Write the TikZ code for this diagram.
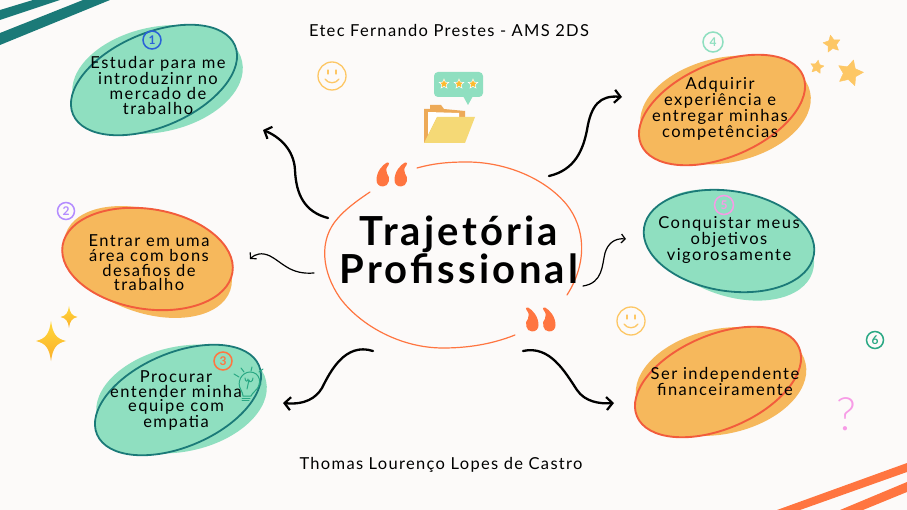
\documentclass[tikz,border=0pt]{standalone}
\usepackage{fontspec}
\setmainfont{Lato}
\newfontfamily\hand[LetterSpace=9]{Lato}
\newfontfamily\handh[LetterSpace=8]{Lato}
\newfontfamily\handb[LetterSpace=8]{Lato Bold}
\newfontfamily\lightf{Lato Light}
\usetikzlibrary{arrows.meta,shapes.geometric}
\definecolor{bgc}{HTML}{FCFAF9}
\definecolor{mint}{HTML}{8FDFC0}
\definecolor{teal}{HTML}{1B7A78}
\definecolor{amber}{HTML}{F6B85C}
\definecolor{redor}{HTML}{F25C3C}
\definecolor{coral}{HTML}{FF7540}
\definecolor{sun}{HTML}{FDC765}
\definecolor{gold}{HTML}{FDBB2E}
\definecolor{goldtop}{HTML}{FFD83A}
\definecolor{goldbot}{HTML}{FBAF2A}
\definecolor{leaf}{HTML}{2AA884}
\definecolor{folderb}{HTML}{EDAA58}
\definecolor{folderf}{HTML}{F5D976}
\definecolor{pinkq}{HTML}{F79BE6}
\definecolor{purpl}{HTML}{B48CFF}
\definecolor{blue1}{HTML}{2A62D8}
\tikzset{
  ringg/.style={draw=teal,fill=mint,line width=1.8pt,ellipse,inner sep=0pt},
  ringo/.style={draw=redor,fill=amber,line width=1.9pt,ellipse,inner sep=0pt},
  fillg/.style={fill=mint,ellipse,inner sep=0pt},
  fillo/.style={fill=amber,ellipse,inner sep=0pt},
  blobtxt/.style={align=center,text=black,inner sep=0pt,font=\hand\fontsize{16.5}{14.6}\selectfont},
  headtxt/.style={text=black,inner sep=0pt,font=\handh\fontsize{16.5}{18}\selectfont},
  numc/.style={circle,draw,line width=1.5pt,inner sep=0pt,minimum size=17pt,font=\handb\fontsize{12}{12}\selectfont},
  thick arrow/.style={draw=black,line width=2.3pt,line cap=round,-{Straight Barb[length=6pt,width=13pt,line width=2.2pt]}},
  thin arrow/.style={draw=black,line width=1.2pt,line cap=round,-{Straight Barb[length=4pt,width=9pt,line width=1.2pt]}},
  starry/.style={star,star points=5,star point ratio=2.0,fill=sun,draw=sun,line join=round,inner sep=0pt},
  smile/.style={draw=sun,line width=1.3pt,line cap=round},
}
\newcommand{\qdrop}[3]{\fill[coral,shift={(#1,#2)},xscale=#3] (-6.5,0) .. controls (-6.5,-8) and (-1,-15) .. (4,-17.5) .. controls (6,-18.2) and (7,-16.5) .. (5.5,-15) .. controls (3,-12) and (2.5,-9) .. (4,-6.5) .. controls (7.5,-3) and (6.5,6.5) .. (0,6.5) .. controls (-4,6.5) and (-6.5,4) .. (-6.5,0) -- cycle;}
\newcommand{\sparkle}[4]{\shade[top color=goldtop,bottom color=goldbot,shift={(#1,#2)},xscale=#3,yscale=#4] (0,-1) .. controls (.12,-.35) and (.35,-.12) .. (1,0) .. controls (.35,.12) and (.12,.35) .. (0,1) .. controls (-.12,.35) and (-.35,.12) .. (-1,0) .. controls (-.35,-.12) and (-.12,-.35) .. (0,-1) -- cycle;}
\newcommand{\smiley}[2]{\begin{scope}[shift={(#1,#2)}]\draw[smile] (0,0) circle[radius=14pt];\draw[smile] (-4,-6) -- (-4,-2) (4,-6) -- (4,-2);\draw[smile] (-7,3) .. controls (-4,8) and (4,8) .. (7,3);\end{scope}}
\begin{document}
\begin{tikzpicture}[x=1pt,y=-1pt]
\useasboundingbox (0,0) rectangle (907,510);
\fill[bgc] (0,0) rectangle (907,510);
% corner stripes
\fill[teal] (0,10) -- (33,0) -- (60,0) -- (0,20) -- cycle;
\fill[teal] (0,33) -- (83,0) -- (110,0) -- (0,45) -- cycle;
\fill[coral] (907,463) -- (777,510) -- (800,510) -- (907,472) -- cycle;
\fill[coral] (907,482) -- (840,510) -- (863,510) -- (907,492) -- cycle;
% backing blobs
\node[fillg,minimum width=173pt,minimum height=105pt,rotate=12] (f1) at (157.5,79.5) {};
\node[fillo,minimum width=174pt,minimum height=102pt,rotate=-19] (f2) at (148,262) {};
\node[fillg,minimum width=173pt,minimum height=105pt,rotate=12] (f3) at (181.5,399) {};
\node[fillo,minimum width=173pt,minimum height=105pt,rotate=12] (f4) at (725.5,110) {};
\node[fillg,minimum width=170pt,minimum height=102pt,rotate=-19] (f5) at (732,245) {};
\node[fillo,minimum width=173pt,minimum height=105pt,rotate=12] (f6) at (721,381.5) {};
% outlines
\node[ringg,minimum width=176pt,minimum height=94pt,rotate=23] (r1) at (154,80) {};
\node[ringo,minimum width=172pt,minimum height=100pt,rotate=-9] (r2) at (147.5,259) {};
\node[ringg,minimum width=176pt,minimum height=94pt,rotate=23] (r3) at (178,400) {};
\node[ringo,minimum width=176pt,minimum height=94pt,rotate=23] (r4) at (722,110) {};
\node[ringg,minimum width=172pt,minimum height=100pt,rotate=-9] (r5) at (729,241) {};
\node[ringo,minimum width=176pt,minimum height=94pt,rotate=23] (r6) at (718,382) {};
% texts
\node[blobtxt] (t1) at (158,85.5) {Estudar para me\\introduzinr no\\mercado de\\trabalho};
\node[blobtxt] (t2) at (149,263) {Entrar em uma\\área com bons\\desafios de\\trabalho};
\node[blobtxt] (t3) at (176,400.5) {Procurar\\entender minha\\equipe com\\empatia};
\node[blobtxt] (t4) at (720,108.5) {Adquirir\\experiência e\\entregar minhas\\competências};
\node[blobtxt] (t5) at (729,240) {Conquistar meus\\objetivos\\vigorosamente};
\node[blobtxt] (t6) at (725,381.5) {Ser independente\\financeiramente};
\node[headtxt] (top) at (449,30) {Etec Fernando Prestes - AMS 2DS};
\node[headtxt] (bot) at (441,465) {Thomas Lourenço Lopes de Castro};
% hub
\draw[coral,line width=1.2pt,line cap=round] (417,168) .. controls (435,163) and (450,162) .. (467,162) .. controls (505,162) and (545,178) .. (567,205) .. controls (585,228) and (588,262) .. (567,295);
\draw[coral,line width=1.2pt,line cap=round] (515,335) .. controls (490,345) and (465,348) .. (443,348) .. controls (400,348) and (360,325) .. (340,298) .. controls (322,272) and (318,240) .. (338,218) .. controls (345,210) and (355,202) .. (370,192);
\qdrop{383}{180}{1}\qdrop{401}{180}{1}
\qdrop{532}{325}{-1}\qdrop{549}{325}{-1}
\node[align=center,text=black,inner sep=0pt,font=\handb\fontsize{40}{34}\selectfont] (hub) at (459,250) {Trajetória\\Profissional};
% connectors
\coordinate (s1) at (328,218); \coordinate (e1) at (263,130);
\coordinate (s2) at (314,273); \coordinate (e2) at (250,259);
\coordinate (s3) at (373,351); \coordinate (e3) at (283,403);
\coordinate (s4) at (549,176); \coordinate (e4) at (622,97);
\coordinate (s5) at (583,286); \coordinate (e5) at (626,239);
\coordinate (s6) at (523,351); \coordinate (e6) at (614,403);
\draw[thick arrow] (s1) .. controls (305,212) and (296,195) .. (295,170) .. controls (294,150) and (280,137) .. (e1);
\draw[thin arrow] (s2) .. controls (290,275) and (282,262) .. (270,256) .. controls (262,252) and (255,254) .. (e2);
\draw[thick arrow] (s3) .. controls (345,342) and (330,372) .. (322,388) .. controls (316,398) and (305,405) .. (e3);
\draw[thick arrow] (s4) .. controls (575,170) and (583,150) .. (587,130) .. controls (591,105) and (600,95) .. (e4);
\draw[thin arrow] (s5) .. controls (603,283) and (602,265) .. (605,253) .. controls (608,243) and (615,238) .. (e5);
\draw[thick arrow] (s6) .. controls (550,345) and (565,372) .. (577,390) .. controls (585,402) and (600,404) .. (e6);
% number badges
\node[numc,draw=blue1,text=blue1,minimum size=18pt] (n1) at (152,40) {1};
\node[numc,draw=purpl,text=purpl] (n2) at (66,211) {2};
\node[numc,draw=coral,text=coral,minimum size=18pt] (n3) at (223,361) {3};
\node[numc,draw=mint,text=mint,minimum size=20pt] (n4) at (713,42) {4};
\node[numc,draw=pinkq,text=pinkq,minimum size=19pt] (n5) at (724,205) {5};
\node[numc,draw=leaf,text=leaf] (n6) at (875,340) {6};
% smileys
\smiley{332}{76}
\smiley{631}{321}
% stars
\node[starry,minimum size=18pt,rotate=10] (st1) at (832,44) {};
\node[starry,minimum size=14pt,rotate=-10] (st2) at (817,67) {};
\node[starry,minimum size=27pt,rotate=-15] (st3) at (850,73) {};
% sparkles
\sparkle{69}{317}{8.5}{11}
\sparkle{51}{341}{15}{20}
% question mark
\node[text=pinkq,inner sep=0pt,font=\lightf\fontsize{46}{46}\selectfont] (qm) at (846,414) {?};
% speech bubble and folder
\fill[mint,rounded corners=4pt] (434,72) rectangle (483,97);
\fill[mint] (463,96) -- (468,105) -- (473,96) -- cycle;
\node[star,star points=5,star point ratio=2.2,fill=gold,draw=white,line width=.5pt,inner sep=0pt,minimum size=10pt] (fs1) at (444,84) {};
\node[star,star points=5,star point ratio=2.2,fill=gold,draw=white,line width=.5pt,inner sep=0pt,minimum size=10pt] (fs2) at (459,84) {};
\node[star,star points=5,star point ratio=2.2,fill=gold,draw=white,line width=.5pt,inner sep=0pt,minimum size=10pt] (fs3) at (473,84) {};
\fill[folderb] (424,143) -- (424,109) -- (430,109) -- (430,105) -- (441,105) -- (444,109) -- (465,111) -- (465,125) -- (440,143) -- cycle;
\fill[white] (428,112) -- (459,113) -- (459,117) -- (437,117) -- (428,135) -- cycle;
\fill[folderf] (437,117) -- (475,117) -- (465,143) -- (424,143) -- cycle;
% lightbulb
\begin{scope}[draw=leaf,line width=1pt,line cap=round]
\draw (241,390) .. controls (236,382) and (242,372) .. (250,372) .. controls (260,372) and (263,384) .. (255,391) .. controls (253,393) and (252,394) .. (251,396) -- (243,396) .. controls (243,394) and (242,392) .. (241,390);
\draw (242,398) -- (250,398) (242,400.5) -- (249,400.5);
\draw (247,389) -- (249,380) (245,378) .. controls (245,382) and (248,382) .. (248,379) (253,378) .. controls (253,382) and (249,383) .. (249,380);
\draw (234,374) -- (239,377) (241,368) -- (244,372) (252,367) -- (251,371) (259,372) -- (263,369) (259,384) -- (261,384);
\end{scope}
\end{tikzpicture}
\end{document}
